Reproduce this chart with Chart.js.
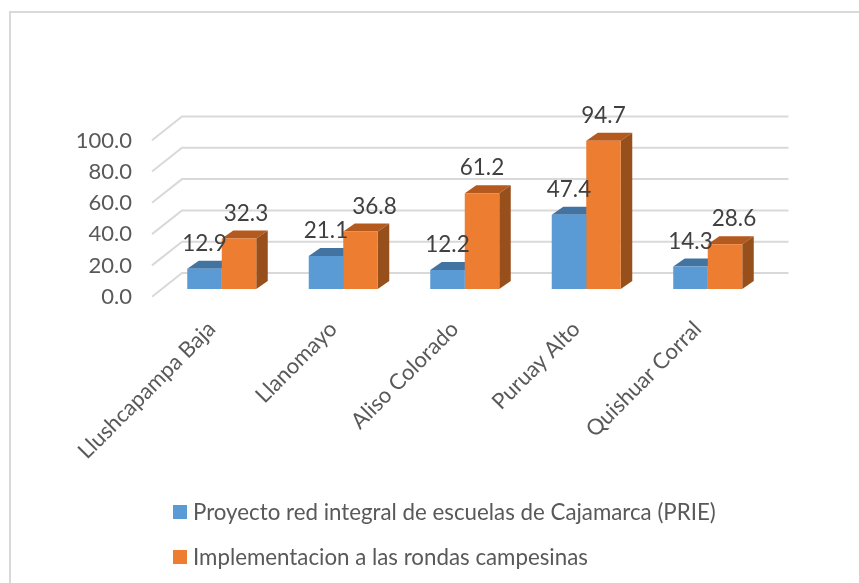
<!DOCTYPE html>
<html lang="es">
<head>
<meta charset="utf-8">
<title>Grafica de barras</title>
<script src="https://cdn.jsdelivr.net/npm/chart.js@4"></script>
<style>
    html, body { margin: 0; padding: 0; background: #fff; }
    #wrap { position: relative; width: 859px; height: 583px; overflow: hidden; }
    #frame { position: absolute; left: 9px; top: 11px; width: 900px; height: 620px; border: 2px solid #d9d9d9; }
    #chart { position: absolute; left: 0; top: 0; }
    #legend { position: absolute; left: 173px; top: 0; font-family: Lato, sans-serif; font-size: 22.3px; color: #595959; }
    .item { position: absolute; left: 0; white-space: nowrap; height: 28px; line-height: 28px; }
    .swatch { position: absolute; left: 0; top: 7px; width: 14px; height: 14px; }
    .name { position: absolute; left: 20px; top: 0; }
</style>
</head>
<body>
<div id="wrap">
    <div id="frame"></div>
    <canvas id="chart" width="859" height="583"></canvas>
    <div id="legend"></div>
</div>
<script>
const categories = ['Llushcapampa Baja', 'Llanomayo', 'Aliso Colorado', 'Puruay Alto', 'Quishuar Corral'];
const prieValues = [12.9, 21.1, 12.2, 47.4, 14.3];
const rondasValues = [32.3, 36.8, 61.2, 94.7, 28.6];
const seriesNames = ['Proyecto red integral de escuelas de Cajamarca (PRIE)', 'Implementacion a las rondas campesinas'];
const yTicks = [0, 20, 40, 60, 80, 100];

// Colores de cada serie: frente, tapa, lateral
const faces = [
    { front: '#5b9bd5', top: '#4374a1', side: '#3e6a93' },
    { front: '#ed7d31', top: '#b45a1f', side: '#97501c' }
];

// Profundidad del efecto 3D (px)
const barDepth = { x: 11.5, y: 8 };
const wallBack = { x: 21, y: 16 };
const wallFront = { x: 9, y: 7.7 };

// Etiquetas que en el original estan movidas a mano (serie de rondas)
const rondasLabelShift = [7, 14, 0, 0, 9];

// Paredes: lineas del fondo y diagonales
const wallGrid = {
    id: 'wallGrid',
    beforeDatasetsDraw(chart) {
        const { ctx, scales: { x, y } } = chart;
        ctx.save();
        ctx.strokeStyle = '#d9d9d9';
        ctx.lineWidth = 2;
        y.ticks.forEach(t => {
            const py = y.getPixelForValue(t.value);
            ctx.beginPath();
            ctx.moveTo(x.left - wallFront.x, py + wallFront.y);
            ctx.lineTo(x.left + wallBack.x, py - wallBack.y);
            ctx.lineTo(x.right + wallBack.x - 1, py - wallBack.y);
            ctx.stroke();
        });
        ctx.restore();
    }
};

// Tapa y lateral de cada barra, detras del frente que dibuja Chart.js
const barFaces = {
    id: 'barFaces',
    beforeDatasetsDraw(chart) {
        const { ctx } = chart;
        chart.data.datasets.forEach((ds, i) => {
            chart.getDatasetMeta(i).data.forEach(bar => {
                const left = bar.x - bar.width / 2;
                const right = bar.x + bar.width / 2;
                ctx.fillStyle = faces[i].top;
                ctx.beginPath();
                ctx.moveTo(left, bar.y);
                ctx.lineTo(left + barDepth.x, bar.y - barDepth.y);
                ctx.lineTo(right + barDepth.x, bar.y - barDepth.y);
                ctx.lineTo(right, bar.y);
                ctx.closePath();
                ctx.fill();
                ctx.fillStyle = faces[i].side;
                ctx.beginPath();
                ctx.moveTo(right, bar.y);
                ctx.lineTo(right + barDepth.x, bar.y - barDepth.y);
                ctx.lineTo(right + barDepth.x, bar.base - barDepth.y);
                ctx.lineTo(right, bar.base);
                ctx.closePath();
                ctx.fill();
            });
        });
    }
};

// Valores sobre las barras
const valueLabels = {
    id: 'valueLabels',
    afterDatasetsDraw(chart) {
        const { ctx } = chart;
        ctx.save();
        ctx.font = '22.5px Lato, sans-serif';
        ctx.fillStyle = '#404040';
        ctx.textAlign = 'center';
        ctx.textBaseline = 'middle';
        chart.data.datasets.forEach((ds, i) => {
            chart.getDatasetMeta(i).data.forEach((bar, j) => {
                const shift = i === 1 ? rondasLabelShift[j] : 0;
                ctx.fillText(ds.data[j].toFixed(1), bar.x + shift, bar.y - 25);
            });
        });
        ctx.restore();
    }
};

const chart = new Chart(document.getElementById('chart'), {
    type: 'bar',
    data: {
        labels: categories,
        datasets: [
            { label: seriesNames[0], data: prieValues, backgroundColor: faces[0].front },
            { label: seriesNames[1], data: rondasValues, backgroundColor: faces[1].front }
        ]
    },
    options: {
        responsive: false,
        animation: false,
        layout: { autoPadding: false, padding: { top: 132.5, right: 90.5, left: 0, bottom: 0 } },
        plugins: { legend: { display: false }, tooltip: { enabled: false } },
        datasets: { bar: { categoryPercentage: 0.568, barPercentage: 1 } },
        scales: {
            x: {
                grid: { display: false },
                border: { display: false },
                afterFit(scale) { scale.height = 294; },
                ticks: {
                    autoSkip: false,
                    maxRotation: 45,
                    minRotation: 45,
                    padding: 19,
                    labelOffset: -10,
                    color: '#595959',
                    font: { family: 'Lato, sans-serif', size: 22 }
                }
            },
            y: {
                min: 0,
                max: 100,
                grid: { display: false },
                border: { display: false },
                afterFit(scale) { scale.width = 161; },
                afterBuildTicks(scale) { scale.ticks = yTicks.map(v => ({ value: v })); },
                ticks: {
                    padding: 21,
                    labelOffset: 8,
                    color: '#595959',
                    font: { family: 'Lato, sans-serif', size: 22 },
                    callback: v => v.toFixed(1)
                }
            }
        }
    },
    plugins: [wallGrid, barFaces, valueLabels]
});

// Leyenda vertical en HTML, armada desde los datasets
const legendBox = document.getElementById('legend');
const legendTops = [497.5, 543];
chart.data.datasets.forEach((ds, i) => {
    const item = document.createElement('div');
    item.className = 'item';
    item.style.top = legendTops[i] + 'px';
    const swatch = document.createElement('span');
    swatch.className = 'swatch';
    swatch.style.backgroundColor = ds.backgroundColor;
    const name = document.createElement('span');
    name.className = 'name';
    name.textContent = ds.label;
    item.appendChild(swatch);
    item.appendChild(name);
    legendBox.appendChild(item);
});
</script>
</body>
</html>
